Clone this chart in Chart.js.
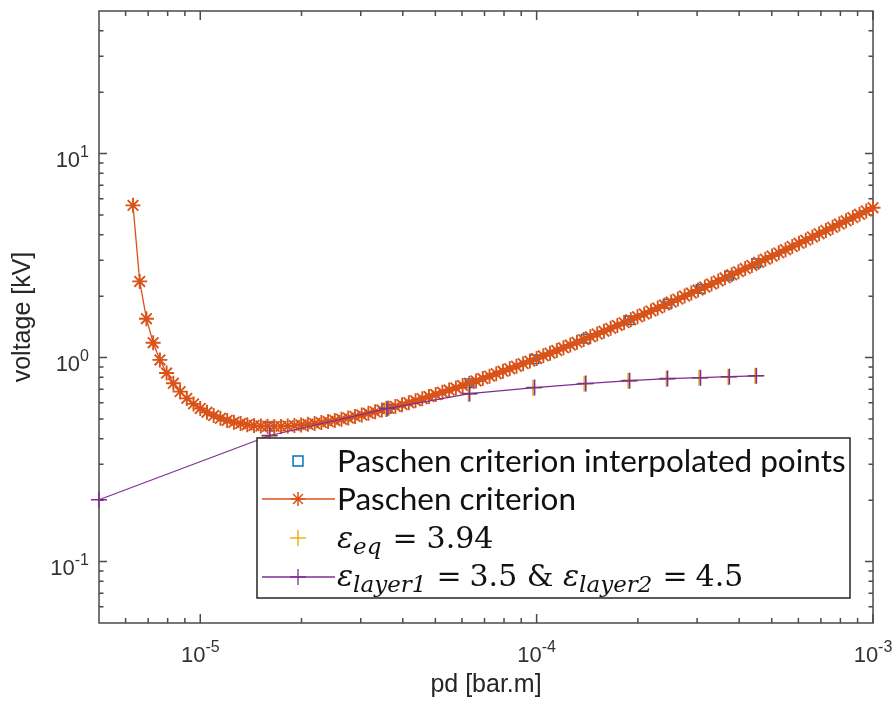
<!DOCTYPE html>
<html>
<head>
<meta charset="utf-8">
<script src="https://cdn.jsdelivr.net/npm/chart.js@4.4.1/dist/chart.umd.min.js"></script>
<style>
html,body{margin:0;padding:0;background:#fff;}
#wrap{position:relative;width:896px;height:704px;}
</style>
</head>
<body>
<div id="wrap"><canvas id="c" width="896" height="704"></canvas></div>
<script>
// ---------------- DATA ----------------
const paschenPd = [
  6.310e-6, 6.607e-6, 6.918e-6, 7.244e-6, 7.586e-6, 7.943e-6, 8.318e-6, 8.710e-6, 9.120e-6, 9.550e-6,
  1.000e-5, 1.047e-5, 1.096e-5, 1.148e-5, 1.202e-5, 1.259e-5, 1.318e-5, 1.380e-5, 1.445e-5, 1.514e-5,
  1.585e-5, 1.660e-5, 1.738e-5, 1.820e-5, 1.905e-5, 1.995e-5, 2.089e-5, 2.188e-5, 2.291e-5, 2.399e-5,
  2.512e-5, 2.630e-5, 2.754e-5, 2.884e-5, 3.020e-5, 3.162e-5, 3.311e-5, 3.467e-5, 3.631e-5, 3.802e-5,
  3.981e-5, 4.169e-5, 4.365e-5, 4.571e-5, 4.786e-5, 5.012e-5, 5.248e-5, 5.495e-5, 5.754e-5, 6.026e-5,
  6.310e-5, 6.607e-5, 6.918e-5, 7.244e-5, 7.586e-5, 7.943e-5, 8.318e-5, 8.710e-5, 9.120e-5, 9.550e-5,
  1.000e-4, 1.047e-4, 1.096e-4, 1.148e-4, 1.202e-4, 1.259e-4, 1.318e-4, 1.380e-4, 1.445e-4, 1.514e-4,
  1.585e-4, 1.660e-4, 1.738e-4, 1.820e-4, 1.905e-4, 1.995e-4, 2.089e-4, 2.188e-4, 2.291e-4, 2.399e-4,
  2.512e-4, 2.630e-4, 2.754e-4, 2.884e-4, 3.020e-4, 3.162e-4, 3.311e-4, 3.467e-4, 3.631e-4, 3.802e-4,
  3.981e-4, 4.169e-4, 4.365e-4, 4.571e-4, 4.786e-4, 5.012e-4, 5.248e-4, 5.495e-4, 5.754e-4, 6.026e-4,
  6.310e-4, 6.607e-4, 6.918e-4, 7.244e-4, 7.586e-4, 7.943e-4, 8.318e-4, 8.710e-4, 9.120e-4, 9.550e-4,
  1.000e-3
];
const paschenV = [
  5.575, 2.363, 1.551, 1.183, 0.974, 0.840, 0.748, 0.681, 0.631, 0.593,
  0.563, 0.539, 0.520, 0.504, 0.492, 0.482, 0.475, 0.469, 0.465, 0.462,
  0.461, 0.460, 0.460, 0.462, 0.464, 0.467, 0.471, 0.475, 0.480, 0.486,
  0.492, 0.499, 0.506, 0.515, 0.523, 0.533, 0.542, 0.553, 0.564, 0.576,
  0.588, 0.601, 0.615, 0.629, 0.644, 0.659, 0.676, 0.693, 0.710, 0.729,
  0.748, 0.768, 0.789, 0.811, 0.834, 0.857, 0.882, 0.907, 0.934, 0.961,
  0.990, 1.020, 1.051, 1.083, 1.117, 1.152, 1.188, 1.225, 1.265, 1.305,
  1.347, 1.391, 1.437, 1.484, 1.533, 1.584, 1.637, 1.692, 1.749, 1.809,
  1.871, 1.935, 2.002, 2.071, 2.143, 2.218, 2.295, 2.376, 2.460, 2.547,
  2.638, 2.732, 2.830, 2.932, 3.037, 3.147, 3.261, 3.380, 3.504, 3.632,
  3.765, 3.904, 4.048, 4.198, 4.354, 4.516, 4.684, 4.860, 5.042, 5.231,
  5.428
];
const interpPd = [1.61e-5, 3.59e-5, 6.32e-5, 9.86e-5, 1.40e-4, 1.89e-4, 2.45e-4, 3.07e-4, 3.74e-4, 4.50e-4];
const interpV  = [0.460, 0.561, 0.749, 0.981, 1.237, 1.524, 1.837, 2.169, 2.516, 2.897];
const eqPd = [1.60e-5, 3.56e-5, 6.27e-5, 9.75e-5, 1.385e-4, 1.87e-4, 2.43e-4, 3.04e-4, 3.71e-4, 4.46e-4];
const eqV  = [0.413, 0.560, 0.664, 0.711, 0.744, 0.769, 0.787, 0.796, 0.805, 0.813];
const layerPd = [5.0e-6, 1.61e-5, 3.59e-5, 6.32e-5, 9.86e-5, 1.40e-4, 1.89e-4, 2.45e-4, 3.07e-4, 3.74e-4, 4.50e-4];
const layerV  = [0.201, 0.415, 0.562, 0.666, 0.713, 0.746, 0.771, 0.789, 0.797, 0.806, 0.814];

const xMajorTicks = [1e-5, 1e-4, 1e-3];
const xMajorExp = ['-5', '-4', '-3'];
const xMinorTicks = [6e-6, 7e-6, 8e-6, 9e-6, 2e-5, 3e-5, 4e-5, 5e-5, 6e-5, 7e-5, 8e-5, 9e-5,
                     2e-4, 3e-4, 4e-4, 5e-4, 6e-4, 7e-4, 8e-4, 9e-4];
const yMajorTicks = [0.1, 1, 10];
const yMajorExp = ['-1', '0', '1'];
const yMinorTicks = [0.06, 0.07, 0.08, 0.09, 0.2, 0.3, 0.4, 0.5, 0.6, 0.7, 0.8, 0.9,
                     2, 3, 4, 5, 6, 7, 8, 9, 20, 30, 40];

const xTitle = 'pd [bar.m]';
const yTitle = 'voltage [kV]';
const legendLabels = ['Paschen criterion interpolated points', 'Paschen criterion'];

// ---------------- STYLE ----------------
const C_BLUE = '#0072BD', C_ORANGE = '#D95319', C_YELLOW = '#EDB120', C_PURPLE = '#7E2F8E';
const AXIS_COLOR = '#4a4a4a';
const TICK_FONT = '22px "Liberation Sans", Arial, sans-serif';
const EXP_FONT = '16px "Liberation Sans", Arial, sans-serif';
const TITLE_FONT = '25px "Liberation Sans", Arial, sans-serif';
const LEG_FONT = '31.5px Lato, "Open Sans", sans-serif';
const MATH_FONT = '30px "DejaVu Serif", serif';
const MATH_IT = 'italic 30px "DejaVu Serif", serif';
const MATH_SUB = 'italic 23px "DejaVu Serif", serif';

const pts = (xs, ys) => xs.map((v, i) => ({x: v, y: ys[i]}));

function drawRuns(ctx, x, y, runs) {
  runs.forEach(r => {
    ctx.font = r.font;
    ctx.fillText(r.text, x, y + (r.dy || 0));
    x += ctx.measureText(r.text).width + (r.gap || 0);
  });
  return x;
}

const matlabAxes = {
  id: 'matlabAxes',
  beforeDatasetsDraw(chart) {
    const {ctx, chartArea: a, scales: {x, y}} = chart;
    ctx.save();
    ctx.strokeStyle = AXIS_COLOR;
    ctx.lineWidth = 1.5;
    ctx.beginPath();
    const tx = (vals, len) => vals.forEach(v => {
      const p = x.getPixelForValue(v);
      ctx.moveTo(p, a.bottom); ctx.lineTo(p, a.bottom - len);
      ctx.moveTo(p, a.top); ctx.lineTo(p, a.top + len);
    });
    const ty = (vals, len) => vals.forEach(v => {
      const p = y.getPixelForValue(v);
      ctx.moveTo(a.left, p); ctx.lineTo(a.left + len, p);
      ctx.moveTo(a.right, p); ctx.lineTo(a.right - len, p);
    });
    tx(xMajorTicks, 9); tx(xMinorTicks, 5);
    ty(yMajorTicks, 8); ty(yMinorTicks, 4.5);
    ctx.stroke();
    ctx.strokeRect(a.left, a.top, a.right - a.left, a.bottom - a.top);
    ctx.restore();
  },
  afterDraw(chart) {
    const {ctx, chartArea: a, scales: {x, y}} = chart;
    const H = Chart.helpers;
    ctx.save();
    ctx.fillStyle = '#333';
    ctx.textAlign = 'left';
    ctx.textBaseline = 'alphabetic';
    xMajorTicks.forEach((v, i) => {
      const p = x.getPixelForValue(v);
      ctx.font = TICK_FONT; const w1 = ctx.measureText('10').width;
      ctx.font = EXP_FONT; const w2 = ctx.measureText(xMajorExp[i]).width;
      const s = p - (w1 + w2) / 2;
      ctx.font = TICK_FONT; ctx.fillText('10', s, 662);
      ctx.font = EXP_FONT; ctx.fillText(xMajorExp[i], s + w1, 652);
    });
    yMajorTicks.forEach((v, i) => {
      const p = y.getPixelForValue(v);
      ctx.font = TICK_FONT; const w1 = ctx.measureText('10').width;
      ctx.font = EXP_FONT; const w2 = ctx.measureText(yMajorExp[i]).width;
      const s = 89 - (w1 + w2);
      ctx.font = TICK_FONT; ctx.fillText('10', s, p + 13);
      ctx.font = EXP_FONT; ctx.fillText(yMajorExp[i], s + w1, p + 3);
    });
    ctx.fillStyle = '#262626';
    ctx.font = TITLE_FONT;
    ctx.textAlign = 'center';
    ctx.fillText(xTitle, (a.left + a.right) / 2, 692);
    ctx.save();
    ctx.translate(30, (a.top + a.bottom) / 2);
    ctx.rotate(-Math.PI / 2);
    ctx.fillText(yTitle, 0, 0);
    ctx.restore();

    // legend
    const L = 257, T = 438, R = 850, B = 598;
    ctx.fillStyle = '#fff';
    ctx.fillRect(L, T, R - L, B - T);
    ctx.strokeStyle = '#262626';
    ctx.lineWidth = 1.5;
    ctx.strokeRect(L, T, R - L, B - T);
    const mx = 298, rows = [461, 499, 538, 577];
    ctx.strokeStyle = C_BLUE; ctx.fillStyle = 'rgba(0,0,0,0)';
    H.drawPoint(ctx, {pointStyle: 'rect', radius: 7, borderWidth: 1.5, rotation: 0}, mx, rows[0]);
    ctx.strokeStyle = C_ORANGE; ctx.lineWidth = 1.5;
    ctx.beginPath(); ctx.moveTo(262, rows[1]); ctx.lineTo(335, rows[1]); ctx.stroke();
    H.drawPoint(ctx, {pointStyle: 'star', radius: 7, borderWidth: 1.8, rotation: 0}, mx, rows[1]);
    ctx.strokeStyle = C_YELLOW;
    H.drawPoint(ctx, {pointStyle: 'cross', radius: 8, borderWidth: 1.5, rotation: 0}, mx, rows[2]);
    ctx.strokeStyle = C_PURPLE; ctx.lineWidth = 1.3;
    ctx.beginPath(); ctx.moveTo(262, rows[3]); ctx.lineTo(335, rows[3]); ctx.stroke();
    H.drawPoint(ctx, {pointStyle: 'cross', radius: 8, borderWidth: 1.5, rotation: 0}, mx, rows[3]);

    ctx.fillStyle = '#111';
    ctx.textAlign = 'left';
    ctx.font = LEG_FONT;
    ctx.fillText(legendLabels[0], 337, 472);
    ctx.fillText(legendLabels[1], 337, 510);
    drawRuns(ctx, 337, 548, [
      {text: '\u03B5', font: MATH_IT},
      {text: 'eq', font: MATH_SUB, dy: 6, gap: 11},
      {text: '=', font: MATH_FONT, gap: 9},
      {text: '3.94', font: MATH_FONT}
    ]);
    drawRuns(ctx, 337, 586, [
      {text: '\u03B5', font: MATH_IT},
      {text: 'layer1', font: MATH_SUB, dy: 6, gap: 10},
      {text: '=', font: MATH_FONT, gap: 8},
      {text: '3.5 & ', font: MATH_FONT},
      {text: '\u03B5', font: MATH_IT},
      {text: 'layer2', font: MATH_SUB, dy: 6, gap: 10},
      {text: '=', font: MATH_FONT, gap: 8},
      {text: '4.5', font: MATH_FONT}
    ]);
    ctx.restore();
  }
};

new Chart(document.getElementById('c'), {
  type: 'scatter',
  data: {
    datasets: [
      {
        label: 'Paschen criterion interpolated points',
        data: pts(interpPd, interpV),
        showLine: false,
        pointStyle: 'rect', pointRadius: 6,
        pointBorderColor: C_BLUE, pointBackgroundColor: 'rgba(0,0,0,0)', pointBorderWidth: 1.5,
        order: 4, clip: false
      },
      {
        label: 'Paschen criterion',
        data: pts(paschenPd, paschenV),
        showLine: true, borderColor: C_ORANGE, borderWidth: 1.3,
        pointStyle: 'star', pointRadius: 7.5,
        pointBorderColor: C_ORANGE, pointBackgroundColor: 'rgba(0,0,0,0)', pointBorderWidth: 1.9,
        order: 3, clip: false
      },
      {
        label: 'eps_eq = 3.94',
        data: pts(eqPd, eqV),
        showLine: false,
        pointStyle: 'cross', pointRadius: 8,
        pointBorderColor: C_YELLOW, pointBackgroundColor: 'rgba(0,0,0,0)', pointBorderWidth: 1.6,
        order: 2, clip: false
      },
      {
        label: 'eps_layer1 = 3.5 & eps_layer2 = 4.5',
        data: pts(layerPd, layerV),
        showLine: true, borderColor: C_PURPLE, borderWidth: 1.2,
        pointStyle: 'cross', pointRadius: 8,
        pointBorderColor: C_PURPLE, pointBackgroundColor: 'rgba(0,0,0,0)', pointBorderWidth: 1.6,
        order: 1, clip: false
      }
    ]
  },
  options: {
    responsive: false,
    animation: false,
    devicePixelRatio: 1,
    events: [],
    layout: {padding: {top: 11, right: 23, left: 0, bottom: 0}},
    plugins: {legend: {display: false}, tooltip: {enabled: false}},
    scales: {
      x: {
        type: 'logarithmic', min: 5e-6, max: 1e-3,
        ticks: {display: false}, grid: {display: false}, border: {display: false},
        afterFit: s => { s.height = 81; }
      },
      y: {
        type: 'logarithmic', min: 0.05, max: 50,
        ticks: {display: false}, grid: {display: false}, border: {display: false},
        afterFit: s => { s.width = 99; }
      }
    }
  },
  plugins: [matlabAxes]
});
</script>
</body>
</html>
